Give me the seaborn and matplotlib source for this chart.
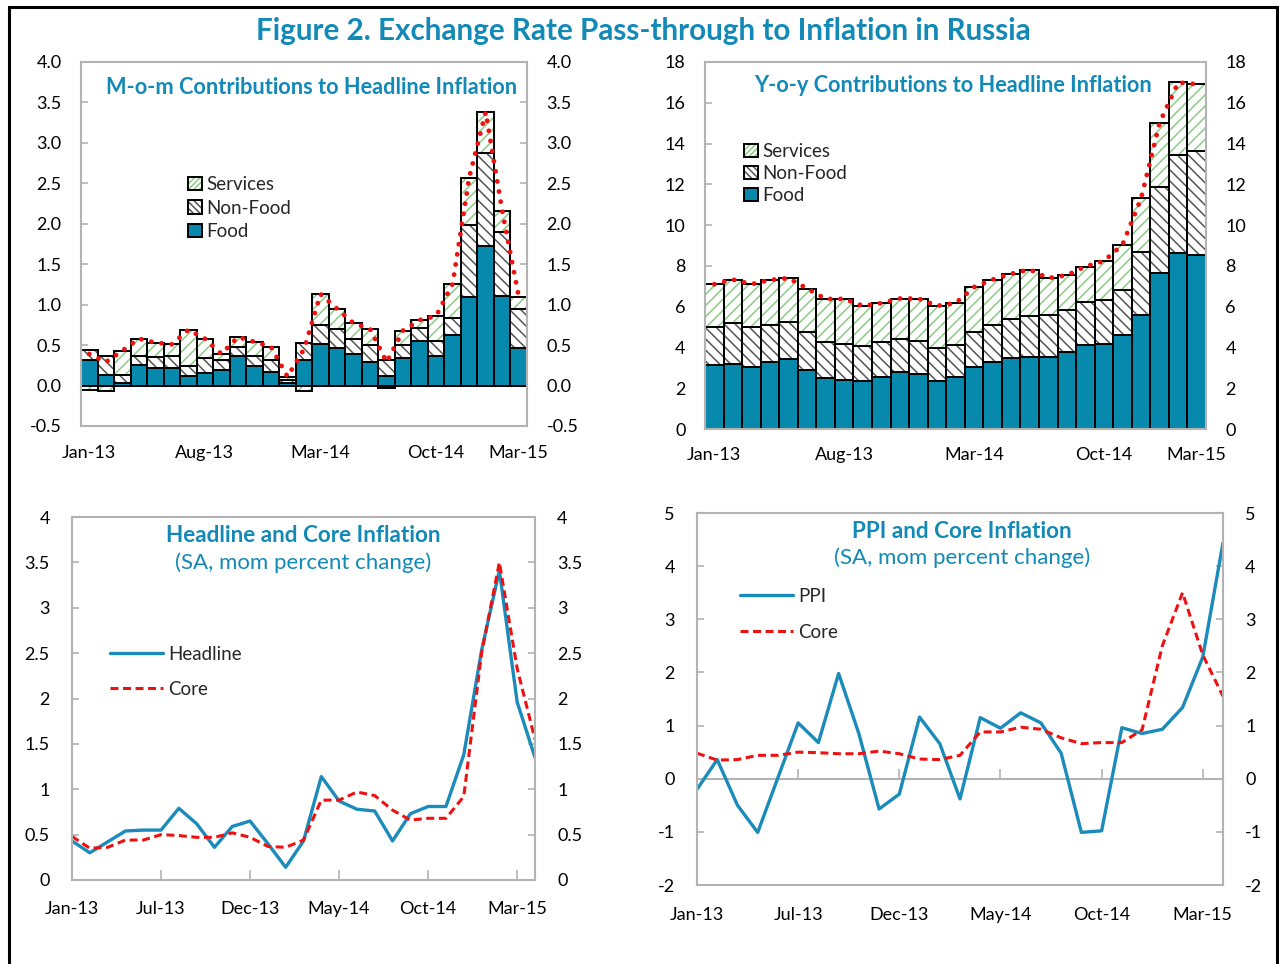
import matplotlib.pyplot as plt
import numpy as np
import pandas as pd
import seaborn as sns
from matplotlib.patches import Patch, Rectangle

# ---- data ----
months = pd.date_range("2013-01-01", periods=27, freq="MS").strftime("%b-%y").tolist()

bar_tick_pos = [0, 7, 14, 21, 26]
bar_tick_labels = ["Jan-13", "Aug-13", "Mar-14", "Oct-14", "Mar-15"]
line_tick_pos = [0, 5, 10, 15, 20, 25]
line_tick_labels = ["Jan-13", "Jul-13", "Dec-13", "May-14", "Oct-14", "Mar-15"]

# m-o-m contributions (pp)
food_mom = [0.32, 0.13, 0.03, 0.26, 0.22, 0.22, 0.12, 0.16, 0.19, 0.36, 0.24, 0.17, 0.03, 0.32,
            0.51, 0.46, 0.39, 0.29, 0.12, 0.34, 0.55, 0.37, 0.62, 1.09, 1.72, 1.11, 0.47]
nonfood_mom = [0.12, 0.23, 0.10, 0.11, 0.13, 0.14, 0.12, 0.18, 0.13, 0.12, 0.13, 0.14, 0.04, 0.20,
               0.24, 0.24, 0.18, 0.21, 0.20, 0.16, 0.16, 0.18, 0.22, 0.90, 1.15, 0.79, 0.48]
services_mom = [-0.05, -0.07, 0.30, 0.21, 0.18, 0.15, 0.45, 0.24, 0.07, 0.12, 0.17, 0.17, 0.04, -0.07,
                0.38, 0.25, 0.20, 0.20, -0.03, 0.18, 0.10, 0.31, 0.42, 0.58, 0.51, 0.26, 0.15]

# y-o-y contributions (pp)
food_yoy = [3.12, 3.18, 3.05, 3.27, 3.41, 2.91, 2.48, 2.40, 2.33, 2.55, 2.78, 2.69, 2.33, 2.55,
            3.05, 3.27, 3.48, 3.54, 3.54, 3.76, 4.11, 4.18, 4.62, 5.60, 7.67, 8.65, 8.52]
nonfood_yoy = [1.86, 2.01, 1.93, 1.84, 1.83, 1.84, 1.78, 1.78, 1.72, 1.71, 1.63, 1.64, 1.64, 1.56,
               1.70, 1.84, 1.92, 1.99, 2.06, 2.07, 2.14, 2.15, 2.20, 3.07, 4.18, 4.79, 5.13]
services_yoy = [2.12, 2.14, 2.12, 2.20, 2.16, 2.14, 2.12, 2.20, 1.99, 1.91, 1.99, 2.07, 2.07, 2.06,
                2.21, 2.22, 2.21, 2.29, 1.80, 1.71, 1.72, 1.91, 2.22, 2.64, 3.17, 3.56, 3.26]

# SA, mom percent change
headline = [0.43, 0.30, 0.42, 0.54, 0.55, 0.55, 0.79, 0.62, 0.36, 0.59, 0.65, 0.40, 0.14, 0.43,
            1.14, 0.87, 0.78, 0.76, 0.43, 0.73, 0.81, 0.81, 1.38, 2.53, 3.41, 1.96, 1.35]
core = [0.48, 0.35, 0.36, 0.44, 0.44, 0.50, 0.49, 0.47, 0.47, 0.52, 0.47, 0.37, 0.36, 0.44,
        0.88, 0.88, 0.97, 0.93, 0.77, 0.66, 0.68, 0.68, 0.92, 2.50, 3.50, 2.33, 1.55]
ppi = [-0.20, 0.36, -0.50, -1.01, 0.02, 1.05, 0.68, 1.98, 0.85, -0.57, -0.29, 1.16, 0.66, -0.38,
       1.15, 0.95, 1.24, 1.05, 0.48, -1.01, -0.98, 0.96, 0.85, 0.93, 1.34, 2.29, 4.44]

# ---- style ----
W, H = 1279, 964
TEAL = "#1289b6"
FOOD = "#0788ad"
LINE_BLUE = "#1a8bba"
RED = "#ee1111"
GRAY = "#b3b3b3"
GREEN_HATCH = "#8ccb85"
DARK_HATCH = "#555555"

sns.set_theme(style="white")
plt.rcParams["font.family"] = ["Lato", "DejaVu Sans"]
plt.rcParams["axes.unicode_minus"] = False
plt.rcParams["hatch.linewidth"] = 1.1

fig = plt.figure(figsize=(W / 100, H / 100), dpi=100)


def add_ax(left, top, right, bottom):
    return fig.add_axes([left / W, 1 - bottom / H, (right - left) / W, (bottom - top) / H])


def ftext(x, y, s, **kw):
    fig.text(x / W, 1 - y / H, s, ha="center", va="center", **kw)


def style_frame(ax, ypad, xpad):
    for sp in ax.spines.values():
        sp.set_color(GRAY)
        sp.set_linewidth(1.5)
    ax.tick_params(axis="y", which="both", left=True, right=True, labelleft=True, labelright=True,
                   direction="in", length=5, width=1.2, color=GRAY, pad=ypad, labelsize=13,
                   labelcolor="black")
    ax.tick_params(axis="x", labelsize=13, pad=xpad, labelcolor="black", color=GRAY)
    ax.set_xlabel("")
    ax.set_ylabel("")
    ax.grid(False)


def stacked_bars(ax, food, nonfood, services):
    n = len(food)
    df = pd.DataFrame({"month": months, "food": food})
    sns.barplot(data=df, x="month", y="food", order=months, color=FOOD, saturation=1,
                width=1.0, edgecolor="black", linewidth=1.4, ax=ax)
    x = np.arange(n)
    food = np.asarray(food)
    nonfood = np.asarray(nonfood)
    services = np.asarray(services)
    base_s = np.where(services >= 0, food + nonfood, 0)
    ax.bar(x, nonfood, bottom=food, width=1.0, color="white", edgecolor=DARK_HATCH,
           hatch="\\\\\\", linewidth=0)
    ax.bar(x, nonfood, bottom=food, width=1.0, fill=False, edgecolor="black", linewidth=1.4)
    ax.bar(x, services, bottom=base_s, width=1.0, color="white", edgecolor=GREEN_HATCH,
           hatch="///", linewidth=0)
    ax.bar(x, services, bottom=base_s, width=1.0, fill=False, edgecolor="black", linewidth=1.4)
    total = food + nonfood + services
    sns.lineplot(x=x, y=total, color=RED, linewidth=3.5, linestyle=(0, (0.01, 2.1)),
                 dash_capstyle="round", ax=ax, zorder=5)
    ax.set_xlim(-0.5, n - 0.5)
    ax.set_xticks(bar_tick_pos, bar_tick_labels)
    ax.tick_params(axis="x", length=0)


def bar_legend(ax, x, y, spacing):
    handles = [
        (Patch(facecolor="white", edgecolor=GREEN_HATCH, hatch="//////", linewidth=0),
         Patch(fill=False, edgecolor="black", linewidth=1.4)),
        (Patch(facecolor="white", edgecolor=DARK_HATCH, hatch="\\\\\\\\\\", linewidth=0),
         Patch(fill=False, edgecolor="black", linewidth=1.4)),
        Patch(facecolor=FOOD, edgecolor="black", linewidth=1.4),
    ]
    ax.legend(handles, ["Services", "Non-Food", "Food"], loc="upper left",
              bbox_to_anchor=(x / W, 1 - y / H), bbox_transform=fig.transFigure,
              frameon=False, fontsize=13.5, handlelength=0.75, handleheight=0.75,
              handletextpad=0.25, labelspacing=spacing, borderpad=0, borderaxespad=0)


# ---- panel 1: m-o-m contributions ----
ax1 = add_ax(81, 62, 527, 426)
stacked_bars(ax1, food_mom, nonfood_mom, services_mom)
ax1.set_ylim(-0.5, 4.0)
ax1.set_yticks(np.arange(-0.5, 4.01, 0.5))
ax1.yaxis.set_major_formatter("{x:.1f}")
style_frame(ax1, ypad=14, xpad=14)
zero1 = ax1.secondary_xaxis(0.5 / 4.5)
zero1.spines["bottom"].set_color(GRAY)
zero1.spines["bottom"].set_linewidth(1.5)
zero1.set_xticks([])
bar_legend(ax1, 188, 176, 0.35)
ftext(312, 88, "M-o-m Contributions to Headline Inflation", color=TEAL, fontsize=15.7,
      fontweight="bold")

# ---- panel 2: y-o-y contributions ----
ax2 = add_ax(705, 62, 1206, 429)
stacked_bars(ax2, food_yoy, nonfood_yoy, services_yoy)
ax2.set_ylim(0, 18)
ax2.set_yticks(np.arange(0, 18.1, 2))
ax2.yaxis.set_major_formatter("{x:.0f}")
style_frame(ax2, ypad=14, xpad=13)
bar_legend(ax2, 744, 143, 0.27)
ftext(953, 86, "Y-o-y Contributions to Headline Inflation", color=TEAL, fontsize=15.7,
      fontweight="bold")

# ---- panel 3: headline and core ----
idx = np.arange(len(headline))
ax3 = add_ax(72, 517, 535, 880)
sns.lineplot(x=idx, y=headline, color=LINE_BLUE, linewidth=2.4, ax=ax3, label="Headline")
sns.lineplot(x=idx, y=core, color=RED, linewidth=2.2, linestyle=(0, (2.6, 1.5)), ax=ax3,
             label="Core")
ax3.set_xlim(0, len(idx) - 1)
ax3.set_ylim(0, 4)
ax3.set_yticks(np.arange(0, 4.01, 0.5))
ax3.yaxis.set_major_formatter("{x:g}")
ax3.set_xticks(line_tick_pos, line_tick_labels)
style_frame(ax3, ypad=16, xpad=15)
ax3.tick_params(axis="x", bottom=True, direction="in", length=7, width=1.2)
ax3.legend(loc="upper left", bbox_to_anchor=(110 / W, 1 - 646 / H), bbox_transform=fig.transFigure,
           frameon=False, fontsize=13.5, handlelength=2.8, handletextpad=0.3, labelspacing=0.95,
           borderpad=0, borderaxespad=0)
ftext(303, 536, "Headline and Core Inflation", color=TEAL, fontsize=16.2, fontweight="bold")
ftext(303, 563, "(SA, mom percent change)", color=TEAL, fontsize=16)

# ---- panel 4: PPI and core ----
ax4 = add_ax(697, 513, 1223, 885)
sns.lineplot(x=idx, y=ppi, color=LINE_BLUE, linewidth=2.4, ax=ax4, label="PPI")
sns.lineplot(x=idx, y=core, color=RED, linewidth=2.2, linestyle=(0, (2.6, 1.5)), ax=ax4,
             label="Core")
ax4.set_xlim(0, len(idx) - 1)
ax4.set_ylim(-2, 5)
ax4.set_yticks(np.arange(-2, 5.1, 1))
ax4.yaxis.set_major_formatter("{x:.0f}")
ax4.set_xticks(line_tick_pos, line_tick_labels)
style_frame(ax4, ypad=16, xpad=16)
ax4.tick_params(axis="x", length=0)
zero4 = ax4.secondary_xaxis(2 / 7)
zero4.spines["bottom"].set_color(GRAY)
zero4.spines["bottom"].set_linewidth(1.5)
zero4.set_xticks(line_tick_pos[1:])
zero4.tick_params(axis="x", direction="in", length=7, width=1.2, color=GRAY, labelbottom=False)
ax4.legend(loc="upper left", bbox_to_anchor=(740 / W, 1 - 588 / H), bbox_transform=fig.transFigure,
           frameon=False, fontsize=13.5, handlelength=2.8, handletextpad=0.3, labelspacing=1.0,
           borderpad=0, borderaxespad=0)
ftext(962, 531, "PPI and Core Inflation", color=TEAL, fontsize=16.2, fontweight="bold")
ftext(962, 558, "(SA, mom percent change)", color=TEAL, fontsize=16)

# ---- figure title and outer border ----
ftext(643, 31, "Figure 2. Exchange Rate Pass-through to Inflation in Russia", color=TEAL,
      fontsize=21.3, fontweight="bold")
fig.add_artist(Rectangle((9 / W, -0.05), (1277 - 9) / W, 1.05 - 7 / H, transform=fig.transFigure,
                         fill=False, edgecolor="black", linewidth=2.2))

fig.savefig("out.png", dpi=100)
